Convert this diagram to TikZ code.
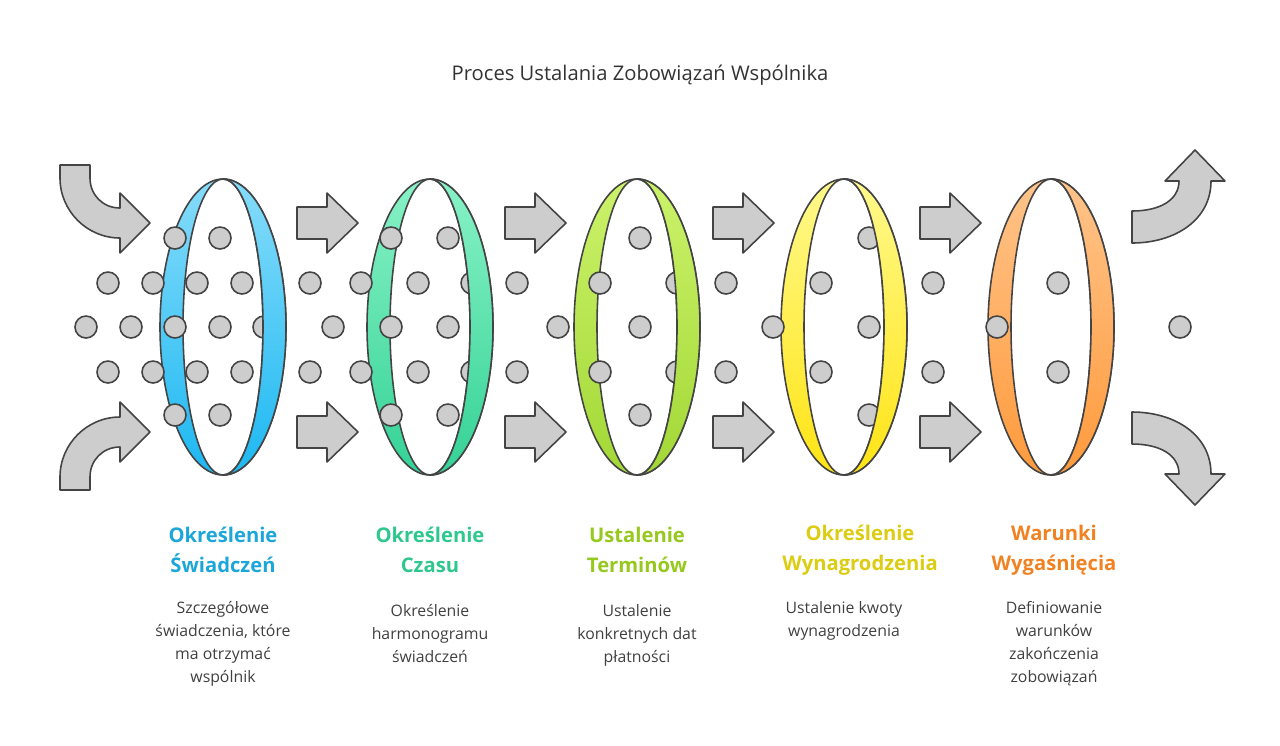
\documentclass[tikz,border=0pt]{standalone}
\usepackage{fontspec}
\setmainfont{Open Sans}
\usetikzlibrary{positioning}

\definecolor{edge}{HTML}{444444}
\definecolor{dotgray}{HTML}{CDCDCD}
\definecolor{ringAtop}{HTML}{86DCFA}\definecolor{ringAbot}{HTML}{1CB8F2}
\definecolor{ringBtop}{HTML}{88F2C6}\definecolor{ringBbot}{HTML}{34D296}
\definecolor{ringCtop}{HTML}{CCF26A}\definecolor{ringCbot}{HTML}{A2D836}
\definecolor{ringDtop}{HTML}{FFF98C}\definecolor{ringDbot}{HTML}{FFE414}
\definecolor{ringEtop}{HTML}{FFC48A}\definecolor{ringEbot}{HTML}{FF9A3C}
\definecolor{labA}{HTML}{1CA6DA}\definecolor{labB}{HTML}{2EC88E}
\definecolor{labC}{HTML}{96C81E}\definecolor{labD}{HTML}{DCCC12}
\definecolor{labE}{HTML}{F08222}

\tikzset{
  dot/.style={circle, draw=edge, fill=dotgray, line width=0.9pt, minimum size=0.44cm, inner sep=0pt},
  blockarrow/.style={draw=edge, fill=dotgray, line width=0.9pt, line join=round},
  steptitle/.style={font=\bfseries\fontsize{11.5}{17}\selectfont, align=center},
  stepdesc/.style={font=\fontsize{9}{13.2}\selectfont, text=black!75, align=center},
}

\newcommand{\ringshape}[3]{% center x, top colour, bottom colour
  \shade[top color=#2, bottom color=#3, even odd rule]
    (#1,327) ellipse [x radius=63, y radius=148] (#1,327) ellipse [x radius=40, y radius=148];
  \draw[edge, line width=0.9pt] (#1,327) ellipse [x radius=63, y radius=148];
  \draw[edge, line width=0.9pt] (#1,327) ellipse [x radius=40, y radius=148];
}

\begin{document}
\begin{tikzpicture}[x=0.02cm, y=-0.02cm]
\useasboundingbox (0,0) rectangle (1280,745);

\node[font=\fontsize{11.5}{14}\selectfont, text=black!80] (title) at (640,75) {Proces Ustalania Zobowiązań Wspólnika};

% rings
\ringshape{223}{ringAtop}{ringAbot}
\ringshape{430}{ringBtop}{ringBbot}
\ringshape{637}{ringCtop}{ringCbot}
\ringshape{844}{ringDtop}{ringDbot}
\ringshape{1051}{ringEtop}{ringEbot}

% dots
\foreach \x/\y [count=\i] in {175/238,220/238,175/415,220/415,108/283,153/283,197/283,242/283,
  86/327,131/327,175/327,220/327,264/327,108/372,153/372,197/372,242/372,
  310/283,361/283,418/283,472/283,333/327,391/327,448/327,310/372,361/372,418/372,472/372,
  391/238,448/238,391/415,448/415,
  517/283,517/372,558/327,600/283,600/372,640/238,640/327,640/415,677/283,677/372,
  726/283,726/372,773/327,821/283,821/372,869/238,869/327,869/415,
  933/283,933/372,997/327,1058/283,1058/372,1180/327}
  \node[dot] (d\i) at (\x,\y) {};

% right bands drawn over the dots behind them
\foreach \cx/\ct/\cb in {223/ringAtop/ringAbot,430/ringBtop/ringBbot,637/ringCtop/ringCbot,844/ringDtop/ringDbot,1051/ringEtop/ringEbot}{
  \begin{scope}
    \clip (\cx,170) rectangle (\cx+70,485);
    \ringshape{\cx}{\ct}{\cb}
  \end{scope}
}

% straight arrows between rings
\foreach \ax in {297,505,713,920}
  \foreach \ay in {223,432}
    \draw[blockarrow] (\ax,\ay-16) -- (\ax+30,\ay-16) -- (\ax+30,\ay-30) -- (\ax+61,\ay)
      -- (\ax+30,\ay+30) -- (\ax+30,\ay+16) -- (\ax,\ay+16) -- cycle;

% incoming curved arrows
\draw[blockarrow] (60,165) -- (90,165) -- (90,178) .. controls (90,195) and (103,208) .. (120,208)
  -- (120,193) -- (150,223) -- (120,253) -- (120,238) .. controls (87,238) and (60,211) .. (60,178) -- cycle;
\draw[blockarrow] (60,490) -- (90,490) -- (90,477) .. controls (90,460) and (103,447) .. (120,447)
  -- (120,462) -- (150,432) -- (120,402) -- (120,417) .. controls (87,417) and (60,444) .. (60,477) -- cycle;

% outgoing curved arrows
\draw[blockarrow] (1132,211) .. controls (1160,211) and (1179,200) .. (1179,181) -- (1165,181)
  -- (1195,150) -- (1225,181) -- (1211,181) .. controls (1211,220) and (1175,243) .. (1132,243) -- cycle;
\draw[blockarrow] (1132,444) .. controls (1160,444) and (1179,455) .. (1179,474) -- (1165,474)
  -- (1195,505) -- (1225,474) -- (1211,474) .. controls (1211,435) and (1175,412) .. (1132,412) -- cycle;

% step labels
\node[steptitle, text=labA] (tA) at (223,550) {Określenie\\Świadczeń};
\node[steptitle, text=labB] (tB) at (430,550) {Określenie\\Czasu};
\node[steptitle, text=labC] (tC) at (637,550) {Ustalenie\\Terminów};
\node[steptitle, text=labD] (tD) at (860,550) {Określenie\\Wynagrodzenia};
\node[steptitle, text=labE] (tE) at (1054,550) {Warunki\\Wygaśnięcia};

\node[stepdesc, anchor=north] (sA) at (223,595) {Szczegółowe\\świadczenia, które\\ma otrzymać\\wspólnik};
\node[stepdesc, anchor=north] (sB) at (430,598) {Określenie\\harmonogramu\\świadczeń};
\node[stepdesc, anchor=north] (sC) at (637,598) {Ustalenie\\konkretnych dat\\płatności};
\node[stepdesc, anchor=north] (sD) at (844,595) {Ustalenie kwoty\\wynagrodzenia};
\node[stepdesc, anchor=north] (sE) at (1054,595) {Definiowanie\\warunków\\zakończenia\\zobowiązań};
\end{tikzpicture}
\end{document}
